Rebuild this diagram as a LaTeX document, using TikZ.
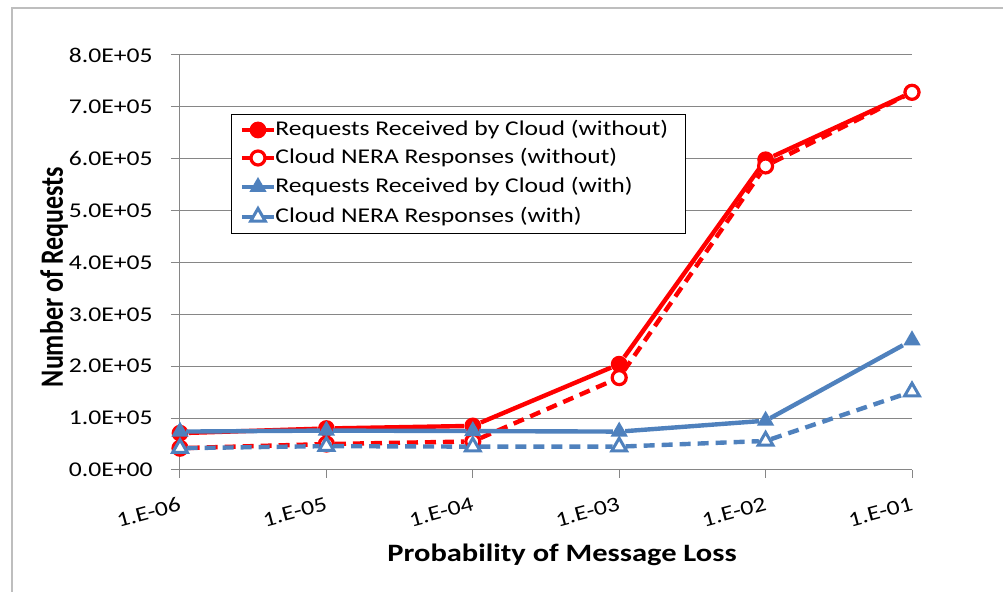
\documentclass[tikz,border=0pt]{standalone}
\usepackage{fontspec}
\setmainfont{Carlito}[FakeStretch=1.22]
\newfontfamily\upfont{Carlito}
\usetikzlibrary{shapes.geometric}
\definecolor{xlred}{RGB}{255,0,0}
\definecolor{xlblue}{RGB}{79,129,189}
\definecolor{xlgrid}{RGB}{134,134,134}
\definecolor{xlframe}{RGB}{190,190,190}

\begin{document}
\begin{tikzpicture}[x=73.2pt, y=25.94pt, font=\fontsize{10.5}{12}\selectfont,
  grid/.style={draw=xlgrid, line width=0.5pt},
  sol/.style={line width=2.2pt, line join=round},
  dsh/.style={line width=2.2pt, dash pattern=on 5.5pt off 3.5pt, line join=round},
  fc/.style={circle, fill=xlred, inner sep=0pt, minimum size=8.4pt},
  oc/.style={circle, draw=xlred, fill=white, line width=1.6pt, inner sep=0pt, minimum size=7pt},
  ft/.style={regular polygon, regular polygon sides=3, fill=xlblue, inner sep=0pt, minimum size=10pt},
  ot/.style={regular polygon, regular polygon sides=3, draw=xlblue, fill=white, line width=1.5pt, inner sep=0pt, minimum size=8.5pt}]
  \useasboundingbox (-90pt,-61pt) rectangle (411.5pt,235pt);
  % chart frame
  \draw[xlframe, line width=0.6pt] (-84pt,-80pt) |- (430pt,231pt);
  % grid and axes
  \foreach \v/\t in {0/0.0E+00, 1/1.0E+05, 2/2.0E+05, 3/3.0E+05, 4/4.0E+05, 5/5.0E+05, 6/6.0E+05, 7/7.0E+05, 8/8.0E+05} {
    \draw[grid] ([xshift=-4.5pt]0,\v) -- (5,\v);
    \node[anchor=east, inner sep=0pt] (yt\v) at ([xshift=-13.5pt]0,\v) {\t};
  }
  \draw[grid] (0,0) -- (0,8);
  \foreach \i/\t in {0/1.E-06, 1/1.E-05, 2/1.E-04, 3/1.E-03, 4/1.E-02, 5/1.E-01} {
    \draw[grid] (\i,0) -- ([yshift=-4pt]\i,0);
    \node[anchor=north east, rotate=15, inner sep=1pt] (xt\i) at ([yshift=-12pt]\i,0) {\t};
  }
  \node[rotate=90, font=\upfont\bfseries\fontsize{13}{15}\selectfont] (ylab) at (-63pt,96.5pt) {\scalebox{1}[1.25]{Number of Requests}};
  \node[anchor=base, font=\bfseries\fontsize{12.5}{15}\selectfont] (xlab) at (191pt,-46pt) {Probability of Message Loss};
  % series
  \foreach \i/\v in {0/0.71, 1/0.80, 2/0.85, 3/2.04, 4/5.98, 5/7.28}
    \node[fc] (rs\i) at (\i,\v) {};
  \draw[sol, xlred] (rs0) -- (rs1) -- (rs2) -- (rs3) -- (rs4) -- (rs5);
  \foreach \i/\v in {0/0.42, 1/0.50, 2/0.55, 3/1.78, 4/5.86, 5/7.28}
    \node[oc] (rh\i) at (\i,\v) {};
  \draw[dsh, xlred] (rh0) -- (rh1) -- (rh2) -- (rh3) -- (rh4) -- (rh5);
  \foreach \i/\v in {0/0.74, 1/0.76, 2/0.75, 3/0.74, 4/0.95, 5/2.50}
    \node[ft] (bs\i) at (\i,\v) {};
  \draw[sol, xlblue] (bs0) -- (bs1) -- (bs2) -- (bs3) -- (bs4) -- (bs5);
  \foreach \i/\v in {0/0.42, 1/0.46, 2/0.45, 3/0.45, 4/0.56, 5/1.51}
    \node[ot] (bh\i) at (\i,\v) {};
  \draw[dsh, xlblue] (bh0) -- (bh1) -- (bh2) -- (bh3) -- (bh4) -- (bh5);
  % legend
  \node[draw=black, fill=white, line width=0.6pt, inner sep=0pt, minimum width=227pt, minimum height=59.5pt, anchor=north west] (leg) at (25.5pt,178pt) {};
  \coordinate (lk1) at (39pt,170pt);
  \coordinate (lk2) at (39pt,156pt);
  \coordinate (lk3) at (39pt,141.5pt);
  \coordinate (lk4) at (39pt,126.5pt);
  \draw[sol, xlred] ([xshift=-8pt]lk1) -- ([xshift=8pt]lk1);
  \node[fc] (lm1) at (lk1) {};
  \draw[sol, xlred] ([xshift=-8pt]lk2) -- ([xshift=8pt]lk2);
  \node[oc] (lm2) at (lk2) {};
  \draw[sol, xlblue] ([xshift=-8pt]lk3) -- ([xshift=8pt]lk3);
  \node[ft] (lm3) at (lk3) {};
  \draw[sol, xlblue] ([xshift=-8pt]lk4) -- ([xshift=8pt]lk4);
  \node[ot] (lm4) at (lk4) {};
  \node[anchor=west, inner sep=0pt] (lt1) at ([xshift=8.5pt]lk1) {Requests Received by Cloud (without)};
  \node[anchor=west, inner sep=0pt] (lt2) at ([xshift=8.5pt]lk2) {Cloud NERA Responses (without)};
  \node[anchor=west, inner sep=0pt] (lt3) at ([xshift=8.5pt]lk3) {Requests Received by Cloud (with)};
  \node[anchor=west, inner sep=0pt] (lt4) at ([xshift=8.5pt]lk4) {Cloud NERA Responses (with)};
\end{tikzpicture}
\end{document}
